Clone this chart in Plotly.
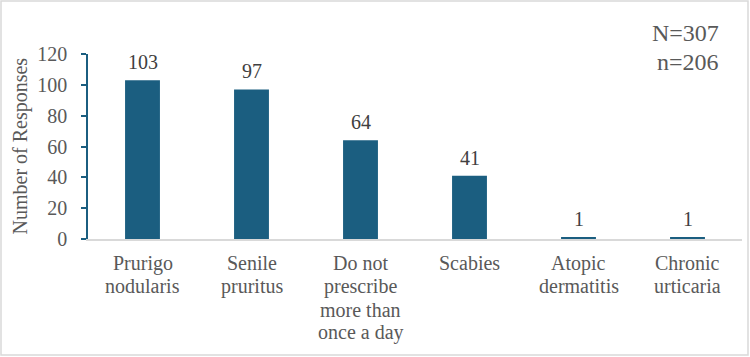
import plotly.graph_objects as go

categories = ["Prurigo nodularis", "Senile pruritus",
              "Do not prescribe more than once a day",
              "Scabies", "Atopic dermatitis", "Chronic urticaria"]
label_lines = [["Prurigo", "nodularis"], ["Senile", "pruritus"],
               ["Do not", "prescribe", "more than", "once a day"],
               ["Scabies"], ["Atopic", "dermatitis"], ["Chronic", "urticaria"]]
values = [103, 97, 64, 41, 1, 1]
y_ticks = [0, 20, 40, 60, 80, 100, 120]

W, H = 750, 357
L, R, T, B = 88, 8, 54, 118
pw, ph = W - L - R, H - T - B

font = "Liberation Serif"
teal = "#1b5e80"
gray = "#595959"

fig = go.Figure(go.Bar(
    x=categories, y=values, width=0.32,
    marker=dict(color=teal, line=dict(width=0)),
    cliponaxis=False,
))

annotations = []
for cat, v in zip(categories, values):
    annotations.append(dict(
        text=str(v), x=cat, y=v, xref="x", yref="y",
        xanchor="center", yanchor="middle", yshift=18,
        showarrow=False, font=dict(family=font, size=20, color="#404040")))

for cat, lines in zip(categories, label_lines):
    for j, line in enumerate(lines):
        annotations.append(dict(
            text=line, x=cat, y=0, xref="x", yref="y",
            xanchor="center", yanchor="middle", yshift=-(24 + j * 23.3),
            showarrow=False, font=dict(family=font, size=20, color=gray)))

annotations += [
    dict(text="N=307", x=1 + (721 - W + R) / pw, y=1 + (T - 33) / ph,
         xref="paper", yref="paper", xanchor="right", yanchor="middle",
         showarrow=False, font=dict(family=font, size=24, color=gray)),
    dict(text="n=206", x=1 + (721 - W + R) / pw, y=1 + (T - 62) / ph,
         xref="paper", yref="paper", xanchor="right", yanchor="middle",
         showarrow=False, font=dict(family=font, size=24, color=gray)),
    dict(text="Number of Responses", x=(20 - L) / pw, y=0.5,
         xref="paper", yref="paper", xanchor="center", yanchor="middle",
         textangle=-90, showarrow=False,
         font=dict(family=font, size=20, color=gray)),
]

fig.update_layout(
    width=W, height=H,
    margin=dict(l=L, r=R, t=T, b=B),
    paper_bgcolor="white", plot_bgcolor="white",
    showlegend=False,
    font=dict(family=font, color=gray),
    xaxis=dict(showgrid=False, showline=True, linecolor="#d9d9d9", linewidth=1.5,
               ticks="", showticklabels=False, range=[-0.5, 5.5]),
    yaxis=dict(range=[0, 120], tickvals=y_ticks, showgrid=False, zeroline=False,
               showline=True, linecolor=teal, linewidth=1.5,
               ticks="outside", ticklen=5, tickcolor=teal, tickwidth=1.5,
               ticklabelstandoff=10,
               tickfont=dict(family=font, size=20, color=gray)),
    annotations=annotations,
    shapes=[dict(type="rect", xref="paper", yref="paper",
                 x0=-(L - 1) / pw, x1=1 + (R - 2) / pw,
                 y0=-(B - 2) / ph, y1=1 + (T - 1) / ph,
                 line=dict(color="#d9d9d9", width=1.5))],
)

fig.write_html("out.html")
